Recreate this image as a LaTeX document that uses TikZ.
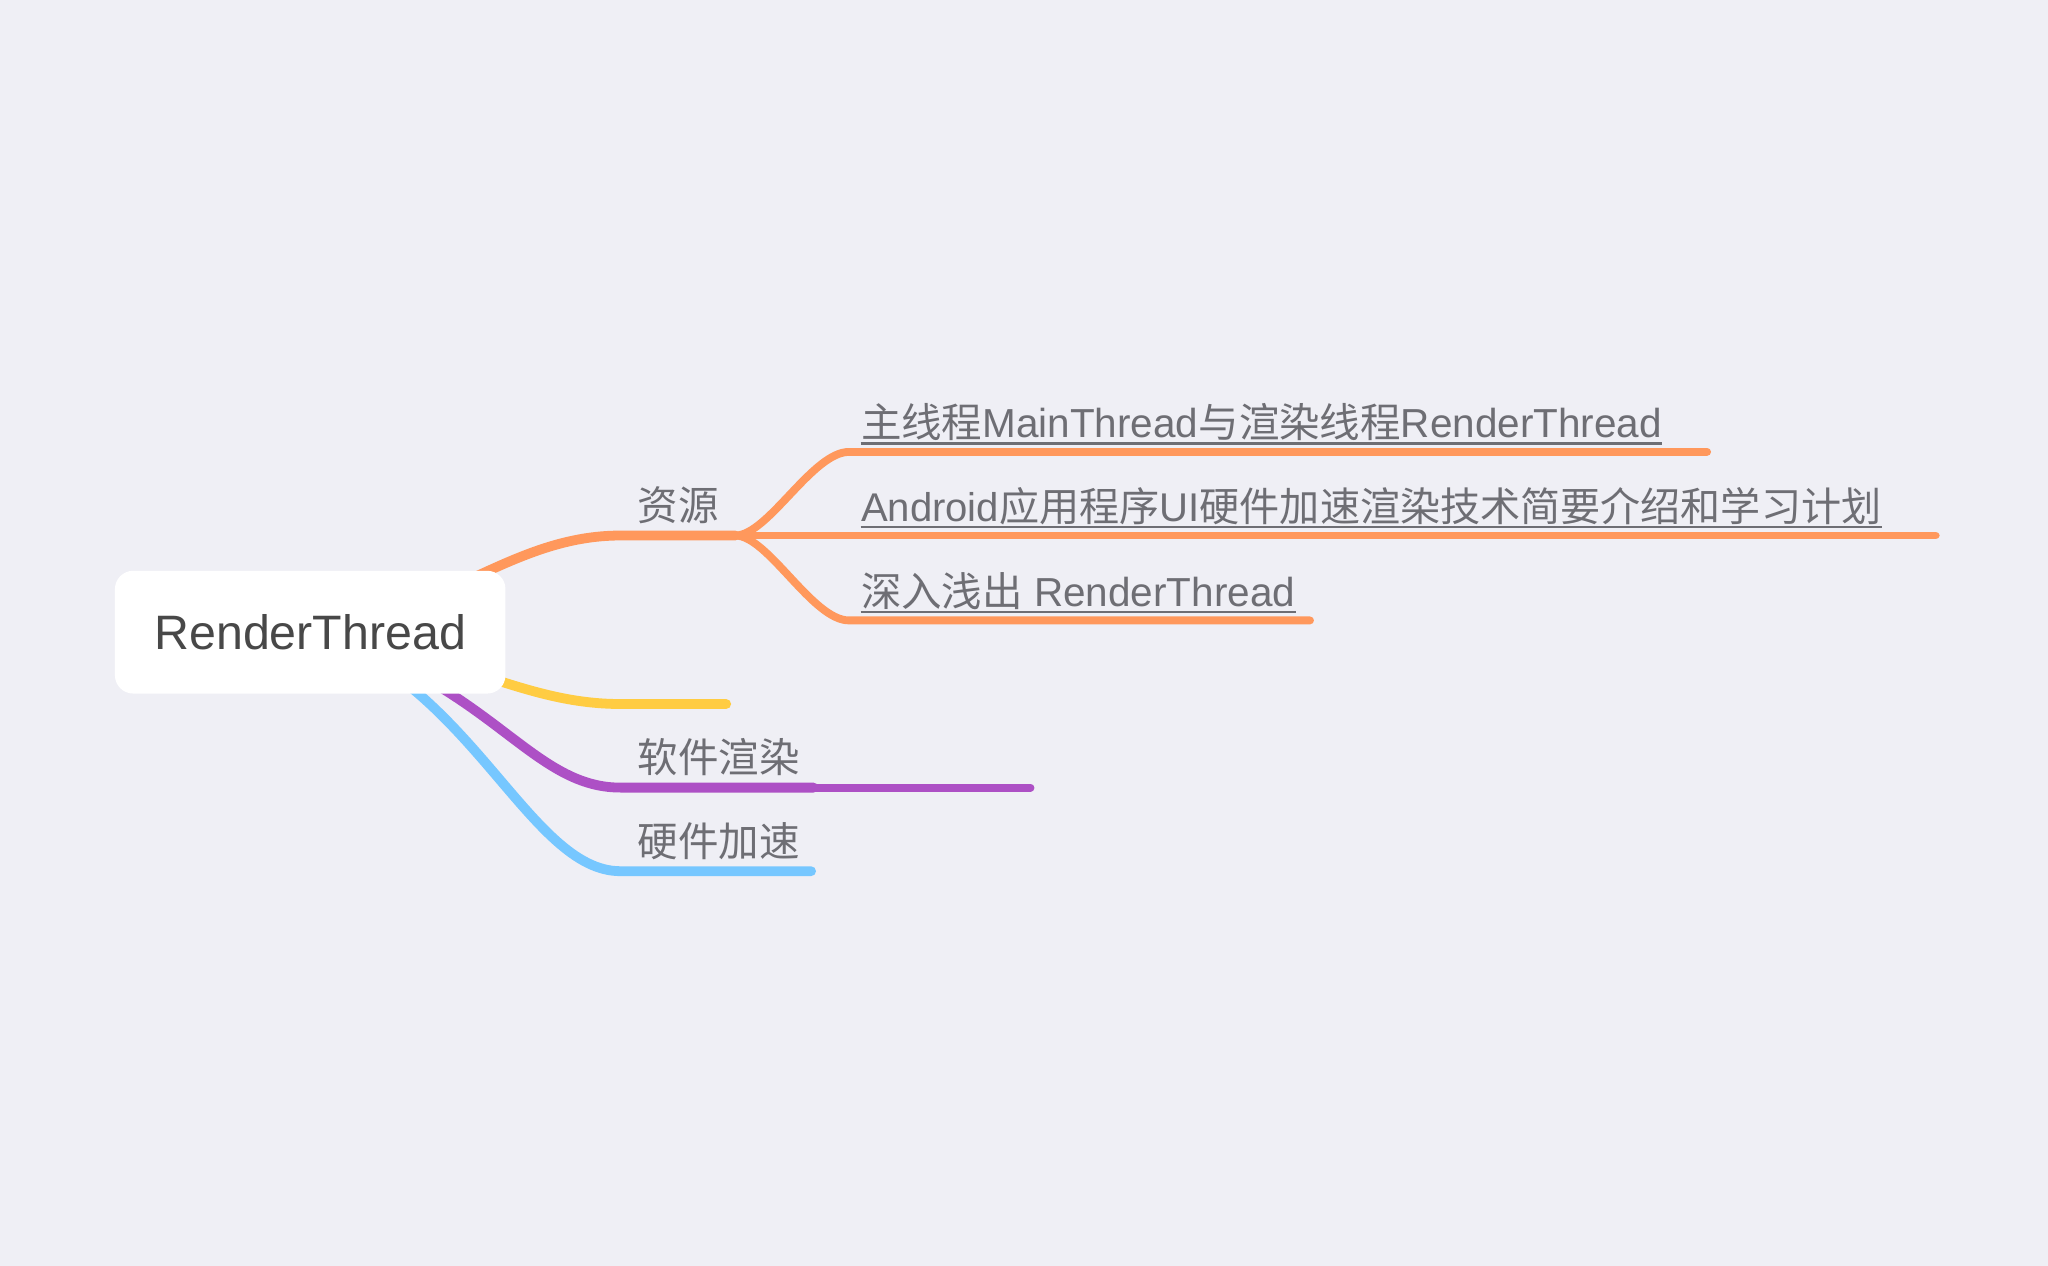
\documentclass[tikz,border=0pt]{standalone}
\usepackage{fontspec}
\setmainfont{Liberation Sans}
\newfontfamily\cjk{Noto Sans CJK SC}
\newcommand{\zh}[1]{{\cjk #1}}
\usetikzlibrary{backgrounds}

\definecolor{bgcol}{RGB}{239,239,245}
\definecolor{orangebr}{RGB}{255,152,92}
\definecolor{yellowbr}{RGB}{255,204,66}
\definecolor{purplebr}{RGB}{173,80,197}
\definecolor{bluebr}{RGB}{118,199,255}
\definecolor{subtext}{RGB}{110,110,116}
\definecolor{roottext}{RGB}{72,72,72}

\begin{document}
\begin{tikzpicture}[x=1pt, y=-1pt,
	root/.style={fill=white, rounded corners=14pt, minimum width=299pt, minimum height=94pt, inner sep=0pt, text=roottext, font=\fontsize{37pt}{44pt}\selectfont},
	sub/.style={anchor=base west, inner sep=0pt, text=subtext, font=\fontsize{31pt}{37pt}\selectfont},
	branch/.style={line width=7.5pt, line cap=round},
	twig/.style={line width=6pt, line cap=round},
	uline/.style={draw=subtext, line width=2pt}]
			\useasboundingbox (0,0) rectangle (1568,969);
			
			\node[root] (root) at (237.5,484){RenderThread};
			
			\node[sub] (res) at (488,398.5){\zh{资源}};
			\node[sub] (r1) at (659,335){\zh{主线程}MainThread\zh{与渲染线程}RenderThread};
			\node[sub, font=\fontsize{30.7pt}{37pt}\selectfont] (r2) at (659,399){Android\zh{应用程序}UI\zh{硬件加速渲染技术简要介绍和学习计划}};
			\node[sub] (r3) at (659,464){\zh{深入浅出} RenderThread};
			\node[sub] (soft) at (488,591.5){\zh{软件渲染}};
			\node[sub] (hard) at (488,655.5){\zh{硬件加速}};
			
			\coordinate (res0) at (475,410);
			\coordinate (j) at (563,410);
			\coordinate (s1) at (650,346);
			\coordinate (s3) at (650,475);
			\coordinate (e1) at (1307,346);
			\coordinate (e2) at (1482,410);
			\coordinate (e3) at (1003,475);
			\coordinate (yl0) at (475,539);
			\coordinate (yl) at (556,539);
			\coordinate (sf0) at (475,603);
			\coordinate (sf1) at (623,603);
			\coordinate (sx) at (789,603);
			\coordinate (hd0) at (475,667);
			\coordinate (hd1) at (621,667);
			
			\draw[uline] ([yshift=-4.5pt]r1.base west) -- ([yshift=-4.5pt]r1.base east);
			\draw[uline] ([yshift=-4.5pt]r2.base west) -- ([yshift=-4.5pt]r2.base east);
			\draw[uline] ([yshift=-4.5pt]r3.base west) -- ([yshift=-4.5pt]r3.base east);
			
			\begin{scope}[on background layer]
			\fill[bgcol] (0,0) rectangle (1568,969);
			
			\draw[branch, orangebr] (root.center) .. controls (340,470) and (392,410) .. (res0) -- (j);
			\draw[twig, orangebr] (j) .. controls (588,410) and (622,346) .. (s1) -- (e1);
			\draw[twig, orangebr] (j) -- (e2);
			\draw[twig, orangebr] (j) .. controls (588,410) and (622,475) .. (s3) -- (e3);
			
			\draw[branch, yellowbr] (root.center) .. controls (350,500) and (400,539) .. (yl0) -- (yl);
			\draw[branch, purplebr] (root.center) .. controls (375,520) and (405,603) .. (sf0) -- (sf1);
			\draw[twig, purplebr] (sf1) -- (sx);
			\draw[branch, bluebr] (root.center) .. controls (360,520) and (405,667) .. (hd0) -- (hd1);
			\end{scope}
			\end{tikzpicture}
\end{document}
